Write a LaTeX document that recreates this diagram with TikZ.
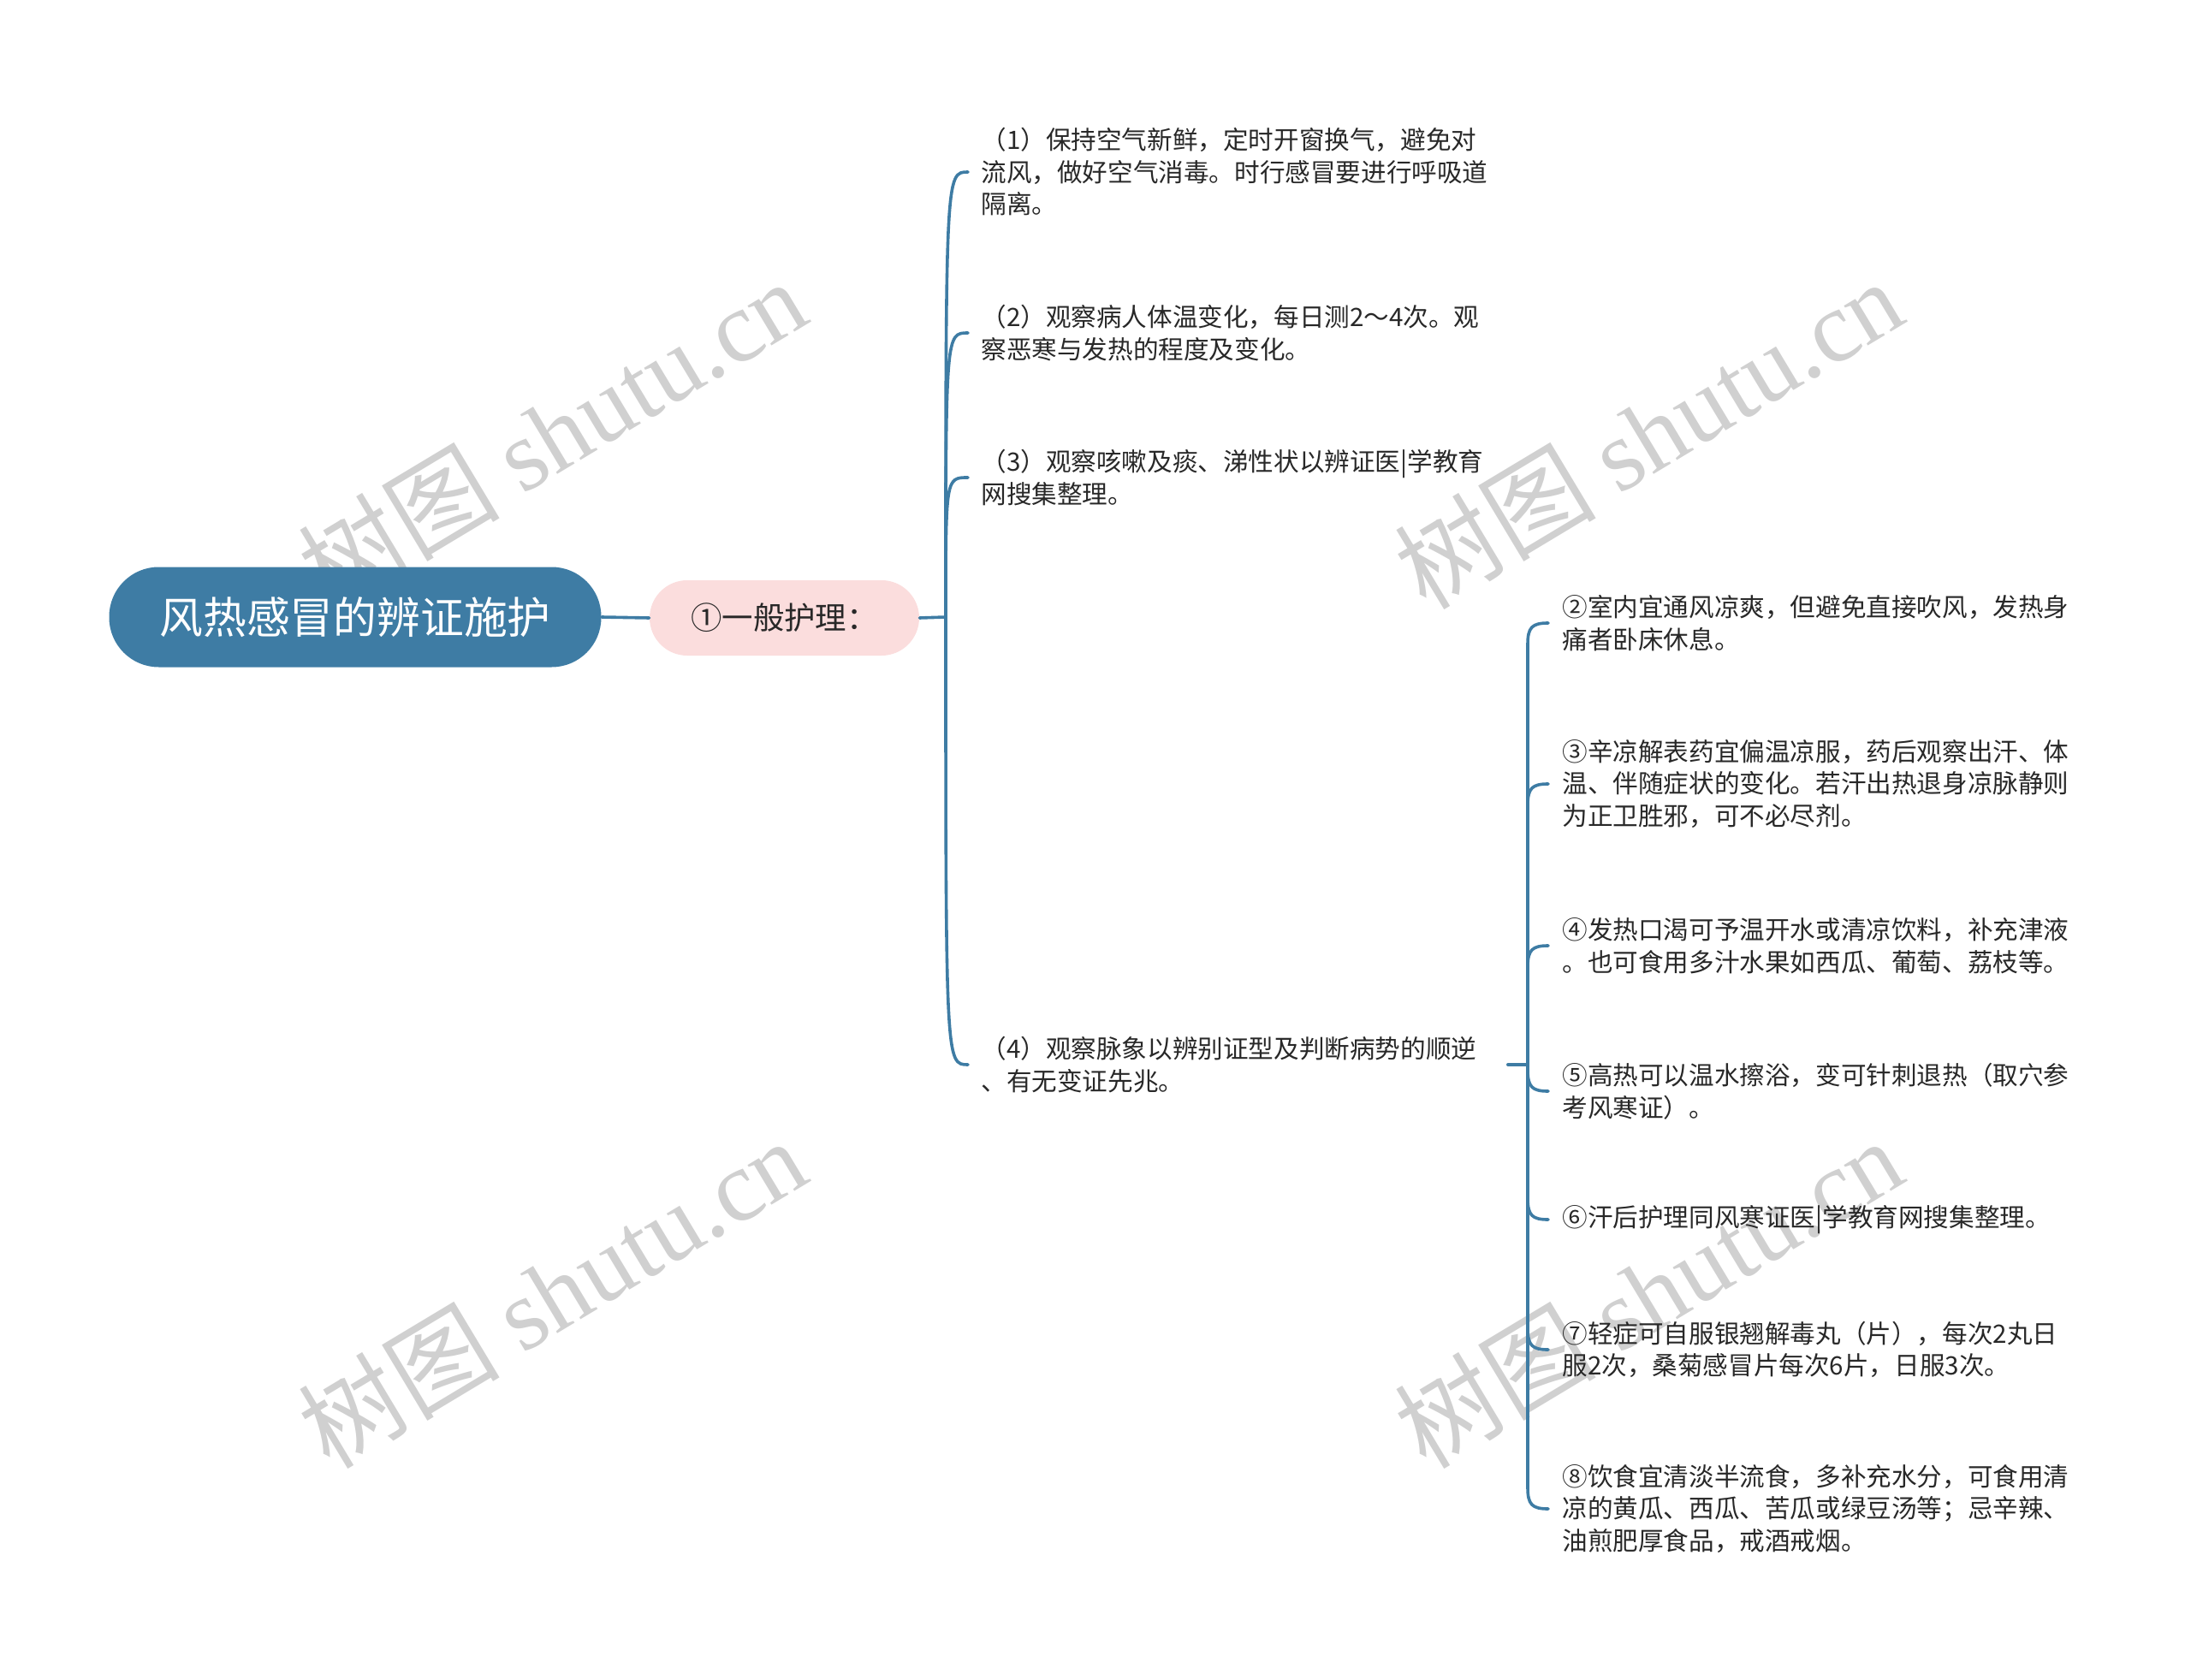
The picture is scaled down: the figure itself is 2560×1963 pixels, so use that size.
\documentclass[tikz,border=0pt]{standalone}
\usepackage{fontspec}
\usetikzlibrary{calc}
\setmainfont{Noto Sans CJK SC}
\newfontfamily\wmlat{Liberation Serif}
\definecolor{rootblue}{RGB}{62,124,164}
\definecolor{linkblue}{RGB}{62,124,164}
\definecolor{pinkfill}{RGB}{251,221,221}
\definecolor{txt}{RGB}{40,40,40}
\definecolor{wm}{RGB}{208,208,208}
\tikzset{
  conn/.style={draw=linkblue, line width=1.8pt, line cap=round},
  rootbox/.style={fill=rootblue, text=white, rounded corners=29pt, minimum width=287.5pt, minimum height=58.5pt, inner sep=0pt, font=\fontsize{25.4pt}{30pt}\selectfont},
  subbox/.style={fill=pinkfill, text=txt, rounded corners=22pt, minimum width=157.5pt, minimum height=44pt, inner sep=0pt, font=\fontsize{18.2pt}{21pt}\selectfont},
  leaf/.style={text=txt, align=left, anchor=west, inner ysep=0pt, inner xsep=7.5pt, font=\fontsize{14.8pt}{18.75pt}\selectfont},
  wmark/.style={text=wm, rotate=31, inner sep=0pt, font=\fontsize{59pt}{66pt}\selectfont}
}
\begin{document}
\begin{tikzpicture}[x=0.5pt,y=-0.5pt]
\useasboundingbox (0,0) rectangle (2560,1963);
% watermarks
\foreach \wx/\wy [count=\i] in {645/506, 1926/506, 645/1510, 1926/1510}
  \node[wmark] (wm\i) at (\wx,\wy) {树图 {\wmlat shutu.cn}};
% root and first child
\node[rootbox] (root) at (415,721) {风热感冒的辨证施护};
\node[subbox] (sub) at (916.5,722) {①一般护理：};
\draw[conn] (root.east) -- (sub.west);
% left column leaves
\node[leaf] (a1) at (1131,201) {（1）保持空气新鲜，定时开窗换气，避免对\\流风，做好空气消毒。时行感冒要进行呼吸道\\隔离。};
\node[leaf] (a2) at (1131,389) {（2）观察病人体温变化，每日测2～4次。观\\察恶寒与发热的程度及变化。};
\node[leaf] (a3) at (1131,558) {（3）观察咳嗽及痰、涕性状以辨证医|学教育\\网搜集整理。};
\node[leaf, text width=300pt] (a4) at (1131,1244) {（4）观察脉象以辨别证型及判断病势的顺逆\\、有无变证先兆。};
\coordinate (t1) at (1105,721);
\draw[conn] (sub.east) -- (t1);
\foreach \n in {a1,a2,a3,a4}
  \draw[conn] (t1) .. controls (t1|-\n.west) .. (\n.west);
% right column leaves
\tikzset{rleaf/.style={leaf, inner xsep=8pt}}
\node[rleaf] (b2) at (1809,728) {②室内宜通风凉爽，但避免直接吹风，发热身\\痛者卧床休息。};
\node[rleaf] (b3) at (1809,916) {③辛凉解表药宜偏温凉服，药后观察出汗、体\\温、伴随症状的变化。若汗出热退身凉脉静则\\为正卫胜邪，可不必尽剂。};
\node[rleaf] (b4) at (1809,1105) {④发热口渴可予温开水或清凉饮料，补充津液\\。也可食用多汁水果如西瓜、葡萄、荔枝等。};
\node[rleaf] (b5) at (1809,1275) {⑤高热可以温水擦浴，变可针刺退热（取穴参\\考风寒证）。};
\node[rleaf] (b6) at (1809,1425) {⑥汗后护理同风寒证医|学教育网搜集整理。};
\node[rleaf] (b7) at (1809,1577) {⑦轻症可自服银翘解毒丸（片），每次2丸日\\服2次，桑菊感冒片每次6片，日服3次。};
\node[rleaf] (b8) at (1809,1763) {⑧饮食宜清淡半流食，多补充水分，可食用清\\凉的黄瓜、西瓜、苦瓜或绿豆汤等；忌辛辣、\\油煎肥厚食品，戒酒戒烟。};
\coordinate (t2) at (1785,1244);
\draw[conn] (a4.east) -- (t2);
\foreach \n in {b2,b3,b4}
  \draw[conn] (t2) -- ($(t2|-\n.west)+(0,25)$) .. controls ($(t2|-\n.west)+(0,5)$) and ($(t2|-\n.west)+(5,0)$) .. (\n.west);
\foreach \n in {b5,b6,b7,b8}
  \draw[conn] (t2) -- ($(t2|-\n.west)+(0,-25)$) .. controls ($(t2|-\n.west)+(0,-5)$) and ($(t2|-\n.west)+(5,0)$) .. (\n.west);
\end{tikzpicture}
\end{document}
